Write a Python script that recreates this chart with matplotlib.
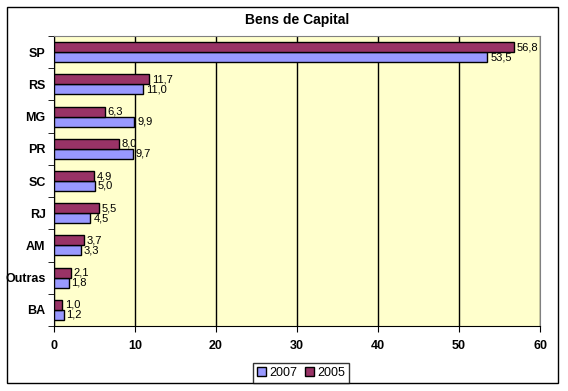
import matplotlib
matplotlib.use('Agg')
import matplotlib.pyplot as plt
import numpy as np
from matplotlib.patches import Rectangle

plt.rcParams['font.family'] = ['Liberation Sans', 'DejaVu Sans']

estados = ['SP', 'RS', 'MG', 'PR', 'SC', 'RJ', 'AM', 'Outras', 'BA']
v2007 = [53.5, 11.0, 9.9, 9.7, 5.0, 4.5, 3.3, 1.8, 1.2]
v2005 = [56.8, 11.7, 6.3, 8.0, 4.9, 5.5, 3.7, 2.1, 1.0]

cor2007 = '#9999FF'
cor2005 = '#993366'

fig = plt.figure(figsize=(5.68, 3.91), dpi=100)
# moldura externa do grafico
fig.patches.append(Rectangle((7 / 568, 8 / 391), 551 / 568, 376 / 391,
                             transform=fig.transFigure, fill=False,
                             edgecolor='black', linewidth=1))

ax = fig.add_axes([54 / 568, 65 / 391, 486 / 568, 290 / 391])
ax.set_facecolor('#FFFFCC')

y = np.arange(len(estados))
h = 0.31
b07 = ax.barh(y + h / 2, v2007, height=h, color=cor2007, edgecolor='black',
              linewidth=1, label='2007', zorder=3)
b05 = ax.barh(y - h / 2, v2005, height=h, color=cor2005, edgecolor='black',
              linewidth=1, label='2005', zorder=3)

for barras, vals in ((b07, v2007), (b05, v2005)):
    for b, v in zip(barras, vals):
        ax.text(b.get_width() + 0.35, b.get_y() + b.get_height() / 2,
                ('%.1f' % v).replace('.', ','), va='center', ha='left',
                fontsize=8, zorder=4)

ax.set_xlim(0, 60)
ax.set_ylim(len(estados) - 0.5, -0.5)
ax.set_xticks(range(0, 61, 10))
ax.set_yticks(y)
ax.set_yticklabels(estados)
ax.set_yticks(np.arange(-0.5, len(estados), 1), minor=True)
ax.tick_params(axis='y', which='major', length=0, pad=6)
ax.tick_params(axis='y', which='minor', length=4, direction='out')
ax.tick_params(axis='x', length=4, direction='out', pad=6)
for lab in ax.get_xticklabels() + ax.get_yticklabels():
    lab.set_fontweight('bold')
    lab.set_fontsize(9)

ax.grid(axis='x', color='black', linewidth=1, zorder=1)
for s in ('top', 'right'):
    ax.spines[s].set_color('#808080')
for s in ('left', 'bottom'):
    ax.spines[s].set_color('black')

fig.text(0.5 * (54 + 540) / 568, 1 - 20 / 391, 'Bens de Capital', ha='center',
         va='center', fontsize=10, fontweight='bold')

leg = fig.legend(handles=[b07, b05], loc='center', ncol=2,
                 bbox_to_anchor=(301 / 568, 1 - 373 / 391), fontsize=9,
                 frameon=True, fancybox=False, edgecolor='black',
                 handlelength=0.7, handleheight=0.7, handletextpad=0.3,
                 columnspacing=0.6, borderpad=0.3)
leg.get_frame().set_linewidth(1)

fig.savefig('out.png', dpi=100)
